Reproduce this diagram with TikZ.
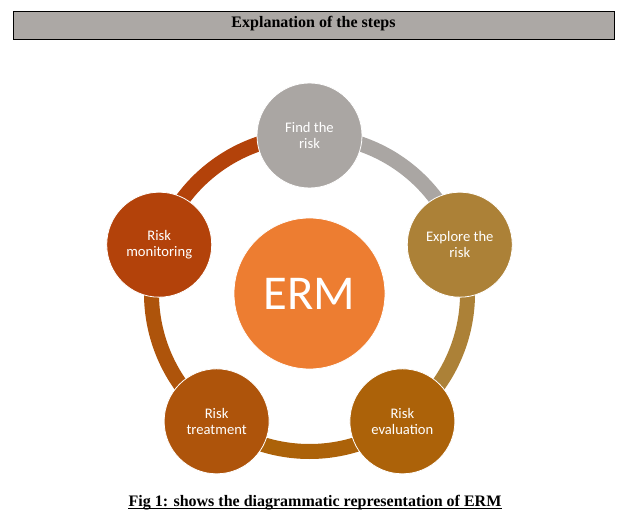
\documentclass[tikz,border=0pt]{standalone}
\usepackage{fontspec}
\setmainfont{Liberation Serif}
\newfontfamily\calib{Carlito}
\usepackage{tikz}
\usetikzlibrary{positioning}
\usetikzlibrary{backgrounds}

\definecolor{headgray}{HTML}{ACA8A5}
\definecolor{findgray}{HTML}{AAA6A3}
\definecolor{exploregold}{HTML}{AC8137}
\definecolor{evalbrown}{HTML}{AC6209}
\definecolor{treatrust}{HTML}{AE540B}
\definecolor{monitrust}{HTML}{B3420A}
\definecolor{ermorange}{HTML}{ED7D31}

\begin{document}
\begin{tikzpicture}[x=1pt,y=1pt,
  stepcirc/.style={circle,fill=#1,draw=white,line width=0.8pt,minimum size=105pt,inner sep=0pt,
    text=white,align=center,font=\calib\fontsize{14.6}{15.7}\selectfont},
  ringarc/.style={draw=#1,line width=15pt}]
\useasboundingbox (0,0) rectangle (631,-526);

\node[draw=black,line width=1pt,fill=headgray,minimum width=601pt,inner sep=0pt,
  text height=15.3pt,text depth=12.7pt,font=\bfseries\fontsize{16}{19}\selectfont]
  (head) at (313.5,-26) {Explanation of the steps};

\node[circle,fill=ermorange,draw=white,line width=0.8pt,minimum size=151pt,inner sep=0pt,
  text=white,font=\calib\fontsize{48.6}{50}\selectfont] (erm) at (309.5,-293.5) {ERM};

\node[stepcirc=findgray] (find) at ([shift={(90:158)}]erm.center) {Find the\\risk};
\node[stepcirc=exploregold] (explore) at ([shift={(18:158)}]erm.center) {Explore the\\risk};
\node[stepcirc=evalbrown] (eval) at ([shift={(-54:158)}]erm.center) {Risk\\evaluation};
\node[stepcirc=treatrust] (treat) at ([shift={(-126:158)}]erm.center) {Risk\\treatment};
\node[stepcirc=monitrust] (monit) at ([shift={(162:158)}]erm.center) {Risk\\monitoring};

\begin{scope}[on background layer]
\draw[ringarc=findgray] (find.center) arc[start angle=90,end angle=18,radius=158];
\draw[ringarc=exploregold] (explore.center) arc[start angle=18,end angle=-54,radius=158];
\draw[ringarc=evalbrown] (eval.center) arc[start angle=-54,end angle=-126,radius=158];
\draw[ringarc=treatrust] (treat.center) arc[start angle=234,end angle=162,radius=158];
\draw[ringarc=monitrust] (monit.center) arc[start angle=162,end angle=90,radius=158];
\end{scope}

\node[inner sep=0pt,anchor=base,font=\bfseries\fontsize{16}{19}\selectfont] (caption) at (315,-506)
  {Fig 1: shows the diagrammatic representation of ERM};
\draw[line width=1.2pt] ([yshift=-2.3pt]caption.base west) -- ([yshift=-2.3pt]caption.base east);

\end{tikzpicture}
\end{document}
